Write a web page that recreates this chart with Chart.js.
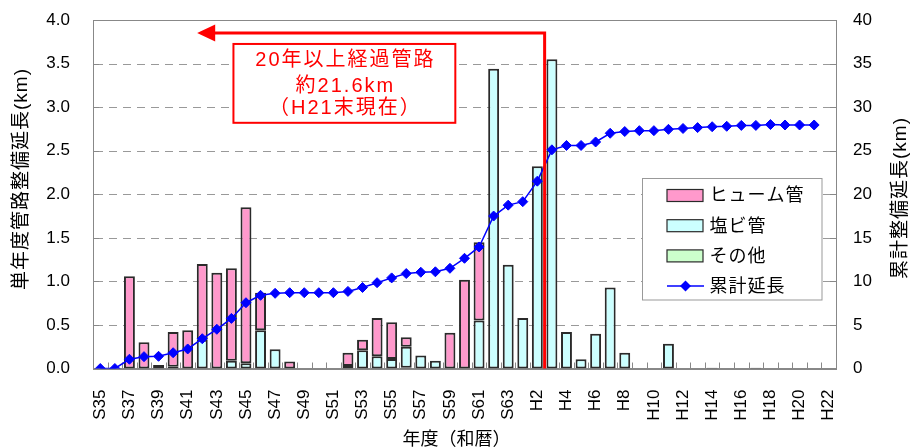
<!DOCTYPE html>
<html>
<head>
<meta charset="utf-8">
<script src="https://cdn.jsdelivr.net/npm/chart.js@4.4.1/dist/chart.umd.min.js"></script>
<style>
  html, body { margin: 0; padding: 0; background: #fff; }
  canvas { display: block; }
</style>
</head>
<body>
<canvas id="pipeChart" width="912" height="448"></canvas>
<script>
// fiscal years (Showa / Heisei)
const years = [
  "S35", "S36", "S37", "S38", "S39", "S40", "S41", "S42", "S43", "S44",
  "S45", "S46", "S47", "S48", "S49", "S50", "S51", "S52", "S53", "S54",
  "S55", "S56", "S57", "S58", "S59", "S60", "S61", "S62", "S63", "H1",
  "H2", "H3", "H4", "H5", "H6", "H7", "H8", "H9", "H10", "H11",
  "H12", "H13", "H14", "H15", "H16", "H17", "H18", "H19", "H20", "H21", "H22"
];

// single-year length (km)
const humePipe = [
  null, null, 1.06, 0.30, 0.04, 0.40, 0.44, 0.87, 1.10, 1.06,
  1.79, 0.43, null, 0.08, null, null, null, 0.15, 0.12, 0.44,
  0.42, 0.11, null, null, 0.41, 1.02, 0.90, null, null, null,
  null, null, null, null, null, null, null, null, null, null,
  null, null, null, null, null, null, null, null, null, null, null
];
const pvcPipe = [
  null, null, null, null, null, 0.02, null, 0.33, null, 0.09,
  0.06, 0.44, 0.22, null, null, null, null, 0.03, 0.21, 0.14,
  0.11, 0.24, 0.15, 0.09, null, null, 0.55, 3.44, 1.19, 0.58,
  2.32, 3.55, 0.42, 0.105, 0.40, 0.93, 0.18, null, null, 0.285,
  null, null, null, null, null, null, null, null, null, null, null
];
const otherPipe = [
  null, null, null, null, null, null, null, null, null, null,
  null, null, null, null, null, null, null, null, null, null,
  null, 0.01, null, null, null, null, null, null, null, null,
  null, null, null, null, null, null, null, null, null, null,
  null, null, 0.01, null, null, 0.01, null, null, null, null, null
];

// cumulative length (km)
const cumulative = [
  0, 0, 1.06, 1.36, 1.40, 1.81, 2.24, 3.42, 4.50, 5.75,
  7.55, 8.40, 8.63, 8.70, 8.70, 8.70, 8.70, 8.85, 9.30, 9.85,
  10.40, 10.90, 11.05, 11.10, 11.50, 12.65, 13.95, 17.50, 18.75, 19.15,
  21.50, 25.10, 25.60, 25.60, 26.00, 27.00, 27.20, 27.30, 27.30, 27.45,
  27.55, 27.65, 27.75, 27.80, 27.90, 27.90, 28.00, 27.95, 27.95, 27.95, null
];

const seriesNames = ["ヒューム管", "塩ビ管", "その他", "累計延長"];

const FONT = '"Liberation Sans", "Noto Sans CJK JP", sans-serif';
const PINK = "#FF99CC";
const CYAN = "#CCFFFF";
const GREEN = "#CCFFCC";
const BLUE = "#0000FF";
const RED = "#FF0000";
const EDGE = "#2A2A2A";

// dashed grid, ticks inside the plot, frame
const frameTicks = {
  id: "frameTicks",
  beforeDatasetsDraw(chart) {
    const { ctx, chartArea: a, scales } = chart;
    ctx.save();
    ctx.strokeStyle = "#999999";
    ctx.lineWidth = 1;
    ctx.setLineDash([8, 6]);
    scales.y.ticks.forEach(t => {
      if (t.value === 0 || t.value === 4) return;
      const py = Math.round(scales.y.getPixelForValue(t.value)) + 0.5;
      ctx.beginPath();
      ctx.moveTo(a.left + 2, py);
      ctx.lineTo(a.right, py);
      ctx.stroke();
    });
    ctx.setLineDash([]);

    ctx.strokeStyle = "#888";
    ctx.beginPath();
    for (let i = 0; i <= years.length; i++) {
      const px = Math.round(scales.x.getPixelForValue(i - 0.5)) + 0.5;
      ctx.moveTo(px, a.bottom);
      ctx.lineTo(px, a.bottom - 6);
    }
    scales.y.ticks.forEach(t => {
      const py = Math.round(scales.y.getPixelForValue(t.value)) + 0.5;
      ctx.moveTo(a.left, py);
      ctx.lineTo(a.left + 6, py);
    });
    scales.y1.ticks.forEach(t => {
      const py = Math.round(scales.y1.getPixelForValue(t.value)) + 0.5;
      ctx.moveTo(a.right, py);
      ctx.lineTo(a.right - 6, py);
    });
    ctx.stroke();
    ctx.strokeRect(Math.round(a.left) + 0.5, Math.round(a.top) + 0.5,
      Math.round(a.right - a.left), Math.round(a.bottom - a.top));
    ctx.restore();
  }
};

// red arrow + note box
const note = {
  id: "note",
  afterDatasetsDraw(chart) {
    const { ctx, chartArea: a, scales: { x, y } } = chart;
    const lineX = x.getPixelForValue(30.5);
    const arrowY = y.getPixelForValue(3.85);
    const tipX = x.getPixelForValue(6.65);
    ctx.save();
    ctx.strokeStyle = RED;
    ctx.fillStyle = RED;
    ctx.lineWidth = 3;
    ctx.beginPath();
    ctx.moveTo(lineX, a.bottom);
    ctx.lineTo(lineX, arrowY);
    ctx.lineTo(tipX + 16, arrowY);
    ctx.stroke();
    ctx.beginPath();
    ctx.moveTo(tipX, arrowY);
    ctx.lineTo(tipX + 18, arrowY - 8.5);
    ctx.lineTo(tipX + 18, arrowY + 8.5);
    ctx.closePath();
    ctx.fill();

    const bx1 = x.getPixelForValue(9.14), bx2 = x.getPixelForValue(24.37);
    const by1 = y.getPixelForValue(3.725), by2 = y.getPixelForValue(2.82);
    ctx.fillStyle = "#fff";
    ctx.fillRect(bx1, by1, bx2 - bx1, by2 - by1);
    ctx.lineWidth = 2;
    ctx.strokeRect(bx1, by1, bx2 - bx1, by2 - by1);

    ctx.fillStyle = RED;
    ctx.font = '20px ' + FONT;
    ctx.letterSpacing = "2px";
    ctx.textAlign = "center";
    ctx.textBaseline = "middle";
    const cx = (bx1 + bx2) / 2;
    ctx.fillText("20年以上経過管路", cx + 1, y.getPixelForValue(3.534));
    ctx.fillText("約21.6km", cx + 1, y.getPixelForValue(3.235));
    ctx.fillText("（H21末現在）", cx + 1, y.getPixelForValue(2.99));
    ctx.restore();
  }
};

// legend inside plot area
const innerLegend = {
  id: "innerLegend",
  afterDraw(chart) {
    const { ctx, chartArea: a } = chart;
    const left = a.right - 193.5, top = 178.5, w = 179.5, h = 121.5;
    ctx.save();
    ctx.fillStyle = "#fff";
    ctx.fillRect(left, top, w, h);
    ctx.strokeStyle = "#999";
    ctx.lineWidth = 1;
    ctx.strokeRect(left, top, w, h);
    const fills = [PINK, CYAN, GREEN];
    ctx.font = '18px ' + FONT;
    ctx.letterSpacing = "1px";
    ctx.textBaseline = "middle";
    ctx.textAlign = "left";
    seriesNames.forEach((name, i) => {
      const cy = top + 17 + i * 30.2;
      const sx = left + 24.5;
      if (i < 3) {
        ctx.fillStyle = fills[i];
        ctx.fillRect(sx, cy - 6, 36, 12);
        ctx.strokeStyle = EDGE;
        ctx.lineWidth = 1.2;
        ctx.strokeRect(sx, cy - 6, 36, 12);
      } else {
        ctx.strokeStyle = BLUE;
        ctx.lineWidth = 1.5;
        ctx.beginPath();
        ctx.moveTo(sx, cy);
        ctx.lineTo(sx + 37, cy);
        ctx.stroke();
        ctx.fillStyle = BLUE;
        ctx.beginPath();
        ctx.moveTo(sx + 18.5, cy - 5.5);
        ctx.lineTo(sx + 24, cy);
        ctx.lineTo(sx + 18.5, cy + 5.5);
        ctx.lineTo(sx + 13, cy);
        ctx.closePath();
        ctx.fill();
      }
      ctx.fillStyle = "#000";
      ctx.fillText(name, left + 67, cy + 1);
    });
    ctx.restore();
  }
};

// axis titles (both read bottom-to-top)
const axisTitles = {
  id: "axisTitles",
  afterDraw(chart) {
    const { ctx, chartArea: a } = chart;
    ctx.save();
    ctx.fillStyle = "#000";
    ctx.textAlign = "center";
    ctx.textBaseline = "middle";
    ctx.font = '19px ' + FONT;
    ctx.letterSpacing = "1px";
    ctx.translate(22, 179);
    ctx.rotate(-Math.PI / 2);
    ctx.fillText("単年度管路整備延長(km)", 0, 0);
    ctx.setTransform(1, 0, 0, 1, 0, 0);
    ctx.translate(901, 198);
    ctx.rotate(-Math.PI / 2);
    ctx.fillText("累計整備延長(km)", 0, 0);
    ctx.setTransform(1, 0, 0, 1, 0, 0);
    ctx.font = '18px ' + FONT;
    ctx.letterSpacing = "0px";
    ctx.fillText("年度（和暦）", (a.left + a.right) / 2 - 8, 440);
    ctx.restore();
  }
};

const barSet = (label, data, color) => ({
  type: "bar",
  label,
  data,
  yAxisID: "y",
  stack: "pipes",
  backgroundColor: color,
  borderColor: EDGE,
  borderWidth: 2,
  borderSkipped: false,
  barPercentage: 0.75,
  categoryPercentage: 1
});

// vertical axes: fixed width, no extra label padding at top/bottom
const fitVertical = width => s => {
  s.width = width;
  s.paddingTop = 0;
  s.paddingBottom = 0;
};

new Chart(document.getElementById("pipeChart").getContext("2d"), {
  data: {
    labels: years,
    datasets: [
      {
        type: "line",
        label: seriesNames[3],
        data: cumulative,
        yAxisID: "y1",
        borderColor: BLUE,
        borderWidth: 1.5,
        pointStyle: "rectRot",
        pointRadius: 5,
        pointBackgroundColor: BLUE,
        pointBorderColor: BLUE,
        pointBorderWidth: 1,
        tension: 0
      },
      barSet(seriesNames[2], otherPipe, GREEN),
      barSet(seriesNames[1], pvcPipe, CYAN),
      barSet(seriesNames[0], humePipe, PINK)
    ]
  },
  options: {
    responsive: false,
    animation: false,
    events: [],
    layout: { padding: { top: 20, left: 0, right: 0, bottom: 0 } },
    plugins: {
      legend: { display: false },
      tooltip: { enabled: false }
    },
    scales: {
      x: {
        stacked: true,
        offset: true,
        grid: { display: false, drawTicks: false },
        border: { display: true, color: "#888" },
        ticks: {
          autoSkip: false,
          minRotation: 90,
          maxRotation: 90,
          padding: 21,
          color: "#000",
          font: { family: FONT, size: 17 },
          callback: (v, i) => (i % 2 === 0 ? years[i] : "")
        },
        afterFit: s => {
          s.height = 79.5;
          s.paddingLeft = 0;
          s.paddingRight = 0;
        }
      },
      y: {
        position: "left",
        stacked: true,
        min: 0,
        max: 4,
        grid: { display: false, drawTicks: false },
        border: { display: true, color: "#888" },
        ticks: {
          stepSize: 0.5,
          padding: 23,
          color: "#000",
          font: { family: FONT, size: 17 },
          callback: v => v.toFixed(1)
        },
        afterFit: fitVertical(93)
      },
      y1: {
        position: "right",
        stacked: false,
        min: 0,
        max: 40,
        grid: { drawOnChartArea: false, drawTicks: false },
        border: { display: true, color: "#888" },
        ticks: {
          stepSize: 5,
          padding: 17,
          color: "#000",
          font: { family: FONT, size: 17 }
        },
        afterFit: fitVertical(76)
      }
    }
  },
  plugins: [frameTicks, note, innerLegend, axisTitles]
});
</script>
</body>
</html>
